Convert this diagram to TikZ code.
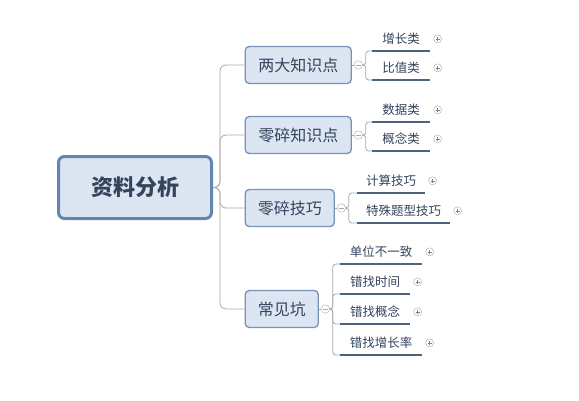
\documentclass[tikz,border=0pt]{standalone}
\usepackage{fontspec}
\setmainfont{Noto Sans CJK SC}
\usepackage{tikz}
\usetikzlibrary{positioning,calc}
\definecolor{boxfill}{HTML}{DCE6F3}
\definecolor{boxline}{HTML}{7892B6}
\definecolor{rootline}{HTML}{6584AE}
\definecolor{ink}{HTML}{33445C}
\definecolor{ulinecol}{HTML}{4D627E}
\definecolor{linkgray}{HTML}{A8A8A8}
\tikzset{>=latex}
\tikzset{root/.style={draw=rootline, line width=3pt, fill=boxfill, rounded corners=6pt,
    minimum width=153pt, minimum height=62pt, text=ink,
    font=\fontsize{22}{22}\selectfont\bfseries}}
\tikzset{topic/.style={draw=boxline, line width=1.3pt, fill=boxfill, rounded corners=4pt,
    anchor=west, minimum height=37pt, text=ink, font=\fontsize{16}{16}\selectfont}}
\tikzset{leaf/.style={anchor=south west, inner sep=0pt, minimum height=24pt, text=ink,
    font=\fontsize{12.5}{12.5}\selectfont}}
\tikzset{link/.style={draw=linkgray, line width=0.8pt, rounded corners=3pt}}
\tikzset{uline/.style={draw=ulinecol, line width=2.5pt}}
\tikzset{fold/.style={circle, draw=linkgray, fill=white, inner sep=0pt, minimum size=8.5pt,
    path picture={\draw[linkgray, line width=0.6pt]
      ([xshift=2pt]path picture bounding box.west) -- ([xshift=-2pt]path picture bounding box.east);}}}
\tikzset{unfold/.style={circle, draw=linkgray, fill=white, inner sep=0pt, minimum size=8pt,
    path picture={\draw[gray, line width=0.5pt]
      ([xshift=2pt]path picture bounding box.west) -- ([xshift=-2pt]path picture bounding box.east)
      ([yshift=-2pt]path picture bounding box.north) -- ([yshift=2pt]path picture bounding box.south);}}}

\begin{document}
\begin{tikzpicture}[x=1pt, y=-1pt]
  \useasboundingbox (0,0) rectangle (579,400);
  \node[root] (root) at (135,187.5) {资料分析};
  \coordinate (rj) at (220,187.5);

  \node[topic, minimum width=106pt] (b1) at (244.6,65) {两大知识点};
  \node[topic, minimum width=106pt] (b2) at (244.6,135) {零碎知识点};
  \node[topic, minimum width=89pt] (b3) at (244.6,208) {零碎技巧};
  \node[topic, minimum width=73pt] (b4) at (244.6,309) {常见坑};

  \foreach \b in {1,...,4}
    \draw[link, rounded corners=6pt] (root.east) -- (rj) |- (b\b.west);

  % fold buttons and their junctions
  \foreach \b in {1,...,4} {
    \node[fold, right=2pt of b\b] (c\b) {};
    \draw[link] (b\b) -- (c\b);
    \coordinate (j\b) at ([xshift=3pt]c\b.east);
  }

  % sub topics
  \foreach \b/\i/\x/\y/\w/\t in {1/1/372/51/58pt/增长类, 1/2/372/80/58pt/比值类,
      2/1/372/122/58pt/数据类, 2/2/372/151/58pt/概念类,
      3/1/357/193/68pt/计算技巧, 3/2/357/223/93pt/特殊题型技巧,
      4/1/340/264/82pt/单位不一致, 4/2/340/294/70pt/错找时间,
      4/3/340/324/70pt/错找概念, 4/4/340/355/82pt/错找增长率} {
    \node[leaf, minimum width=\w] (l\b\i) at (\x,\y) {\t};
    \draw[uline] (l\b\i.south west) -- (l\b\i.south east);
    \draw[link] (c\b.east) -- (j\b) |- (l\b\i.south west);
    \node[unfold, right=3pt of l\b\i] (p\b\i) {};
  }
\end{tikzpicture}
\end{document}
